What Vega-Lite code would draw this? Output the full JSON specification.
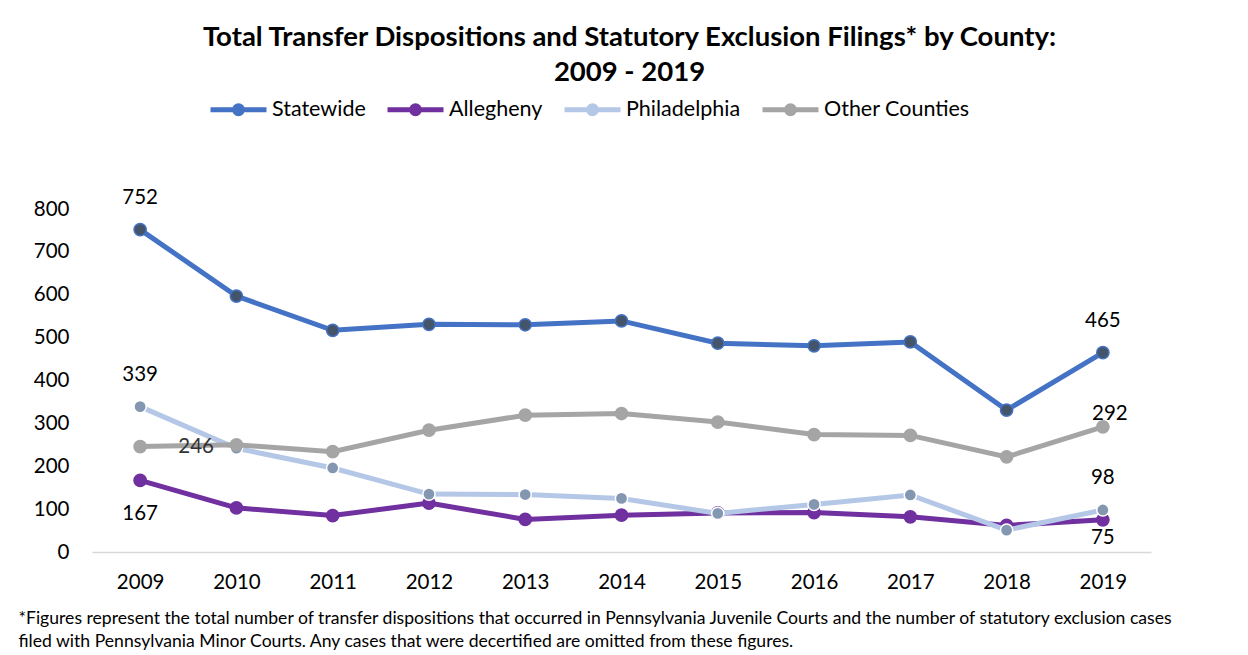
{
  "$schema": "https://vega.github.io/schema/vega-lite/v6.json",
  "autosize": {"type": "none"},
  "width": 1059,
  "height": 343,
  "padding": {"left": 92, "top": 209, "right": 97, "bottom": 103},
  "background": "white",
  "config": {
    "font": "Lato",
    "view": {"stroke": null}
  },
  "title": {
    "text": ["Total Transfer Dispositions and Statutory Exclusion Filings* by County:", "2009 - 2019"],
    "fontSize": 27.5,
    "fontWeight": "bold",
    "color": "#000000",
    "lineHeight": 35,
    "anchor": "middle",
    "dx": 8,
    "offset": -7
  },
  "data": {
    "values": [
      {"year": "2009", "series": "Statewide", "value": 752},
      {"year": "2010", "series": "Statewide", "value": 597},
      {"year": "2011", "series": "Statewide", "value": 517},
      {"year": "2012", "series": "Statewide", "value": 531},
      {"year": "2013", "series": "Statewide", "value": 530},
      {"year": "2014", "series": "Statewide", "value": 539},
      {"year": "2015", "series": "Statewide", "value": 487},
      {"year": "2016", "series": "Statewide", "value": 481},
      {"year": "2017", "series": "Statewide", "value": 490},
      {"year": "2018", "series": "Statewide", "value": 331},
      {"year": "2019", "series": "Statewide", "value": 465},
      {"year": "2009", "series": "Allegheny", "value": 167},
      {"year": "2010", "series": "Allegheny", "value": 103},
      {"year": "2011", "series": "Allegheny", "value": 85},
      {"year": "2012", "series": "Allegheny", "value": 114},
      {"year": "2013", "series": "Allegheny", "value": 76},
      {"year": "2014", "series": "Allegheny", "value": 86},
      {"year": "2015", "series": "Allegheny", "value": 91},
      {"year": "2016", "series": "Allegheny", "value": 92},
      {"year": "2017", "series": "Allegheny", "value": 82},
      {"year": "2018", "series": "Allegheny", "value": 62},
      {"year": "2019", "series": "Allegheny", "value": 75},
      {"year": "2009", "series": "Philadelphia", "value": 339},
      {"year": "2010", "series": "Philadelphia", "value": 242},
      {"year": "2011", "series": "Philadelphia", "value": 196},
      {"year": "2012", "series": "Philadelphia", "value": 135},
      {"year": "2013", "series": "Philadelphia", "value": 134},
      {"year": "2014", "series": "Philadelphia", "value": 125},
      {"year": "2015", "series": "Philadelphia", "value": 90},
      {"year": "2016", "series": "Philadelphia", "value": 111},
      {"year": "2017", "series": "Philadelphia", "value": 133},
      {"year": "2018", "series": "Philadelphia", "value": 51},
      {"year": "2019", "series": "Philadelphia", "value": 98},
      {"year": "2009", "series": "Other Counties", "value": 246},
      {"year": "2010", "series": "Other Counties", "value": 250},
      {"year": "2011", "series": "Other Counties", "value": 234},
      {"year": "2012", "series": "Other Counties", "value": 284},
      {"year": "2013", "series": "Other Counties", "value": 319},
      {"year": "2014", "series": "Other Counties", "value": 323},
      {"year": "2015", "series": "Other Counties", "value": 303},
      {"year": "2016", "series": "Other Counties", "value": 274},
      {"year": "2017", "series": "Other Counties", "value": 272},
      {"year": "2018", "series": "Other Counties", "value": 222},
      {"year": "2019", "series": "Other Counties", "value": 292}
    ]
  },
  "encoding": {
    "x": {
      "field": "year",
      "type": "ordinal",
      "scale": {"type": "point", "padding": 0.5},
      "axis": {
        "labelAngle": 0,
        "labelFontSize": 20.5,
        "labelColor": "#000000",
        "labelPadding": 20,
        "ticks": false,
        "grid": false,
        "domainColor": "#D9D9D9",
        "domainWidth": 1.5,
        "title": ["*Figures represent the total number of transfer dispositions that occurred in Pennsylvania Juvenile Courts and the number of statutory exclusion cases", "filed with Pennsylvania Minor Courts. Any cases that were decertified are omitted from these figures."],
        "titleFontSize": 17.6,
        "titleFontWeight": "normal",
        "titleColor": "#000000",
        "titleLineHeight": 23,
        "titleAlign": "left",
        "titleAnchor": "start",
        "titleBaseline": "top",
        "titleX": -74,
        "titleY": 57
      }
    },
    "y": {
      "field": "value",
      "type": "quantitative",
      "scale": {"domain": [0, 800], "nice": false},
      "axis": {
        "values": [0, 100, 200, 300, 400, 500, 600, 700, 800],
        "labelFontSize": 20.5,
        "labelColor": "#000000",
        "labelPadding": 23,
        "ticks": false,
        "domain": false,
        "grid": false,
        "title": null
      }
    }
  },
  "layer": [
    {
      "transform": [{"filter": "datum.series === 'Statewide'"}],
      "mark": {"type": "line", "strokeWidth": 5},
      "encoding": {
        "color": {
          "field": "series",
          "type": "nominal",
          "scale": {
            "domain": ["Statewide", "Allegheny", "Philadelphia", "Other Counties"],
            "range": ["#4472C4", "#7030A0", "#B4C7E7", "#A5A5A5"]
          },
          "legend": {
            "title": null,
            "orient": "none",
            "direction": "horizontal",
            "legendX": 116,
            "legendY": -130,
            "labelFontSize": 21.5,
            "labelColor": "#000000",
            "labelOffset": 3,
            "columnPadding": 11,
            "symbolSize": 3136,
            "symbolStrokeWidth": 5,
            "symbolType": "M-1,0H1M0.143,0A0.143,0.143 0 1,1 -0.143,0A0.143,0.143 0 1,1 0.143,0M0.05,0A0.05,0.05 0 1,1 -0.05,0A0.05,0.05 0 1,1 0.05,0"
          }
        }
      }
    },
    {
      "transform": [{"filter": "datum.series === 'Statewide'"}],
      "mark": {"type": "point", "filled": true, "size": 150, "fill": "#44546A", "stroke": "#4472C4", "strokeWidth": 1.5, "opacity": 1}
    },
    {
      "transform": [{"filter": "datum.series === 'Allegheny'"}],
      "mark": {"type": "line", "strokeWidth": 5},
      "encoding": {"color": {"field": "series", "type": "nominal"}}
    },
    {
      "transform": [{"filter": "datum.series === 'Allegheny'"}],
      "mark": {"type": "point", "filled": true, "size": 150, "fill": "#7030A0", "stroke": "#7030A0", "strokeWidth": 1.5, "opacity": 1}
    },
    {
      "transform": [{"filter": "datum.series === 'Philadelphia'"}],
      "mark": {"type": "line", "strokeWidth": 5},
      "encoding": {"color": {"field": "series", "type": "nominal"}}
    },
    {
      "transform": [{"filter": "datum.series === 'Philadelphia'"}],
      "mark": {"type": "point", "filled": true, "size": 150, "fill": "#8497B0", "stroke": "#FFFFFF", "strokeWidth": 1.5, "opacity": 1}
    },
    {
      "transform": [{"filter": "datum.series === 'Other Counties'"}],
      "mark": {"type": "line", "strokeWidth": 5},
      "encoding": {"color": {"field": "series", "type": "nominal"}}
    },
    {
      "transform": [{"filter": "datum.series === 'Other Counties'"}],
      "mark": {"type": "point", "filled": true, "size": 150, "fill": "#A5A5A5", "stroke": "#A5A5A5", "strokeWidth": 1.5, "opacity": 1}
    },
    {
      "transform": [{"filter": "(datum.series === 'Statewide' || datum.series === 'Philadelphia') && (datum.year === '2009' || datum.year === '2019')"}],
      "mark": {"type": "text", "fontSize": 20.5, "color": "#000000", "dy": -32, "baseline": "middle"},
      "encoding": {"text": {"field": "value", "type": "quantitative"}}
    },
    {
      "transform": [{"filter": "datum.series === 'Allegheny' && datum.year === '2009'"}],
      "mark": {"type": "text", "fontSize": 20.5, "color": "#000000", "dy": 34, "baseline": "middle"},
      "encoding": {"text": {"field": "value", "type": "quantitative"}}
    },
    {
      "transform": [{"filter": "datum.series === 'Allegheny' && datum.year === '2019'"}],
      "mark": {"type": "text", "fontSize": 20.5, "color": "#000000", "dy": 18, "baseline": "middle"},
      "encoding": {"text": {"field": "value", "type": "quantitative"}}
    },
    {
      "transform": [{"filter": "datum.series === 'Other Counties' && datum.year === '2009'"}],
      "mark": {"type": "text", "fontSize": 20.5, "color": "#333333", "dx": 56, "dy": 0, "baseline": "middle"},
      "encoding": {"text": {"field": "value", "type": "quantitative"}}
    },
    {
      "transform": [{"filter": "datum.series === 'Other Counties' && datum.year === '2019'"}],
      "mark": {"type": "text", "fontSize": 20.5, "color": "#000000", "dx": 7, "dy": -13, "baseline": "middle"},
      "encoding": {"text": {"field": "value", "type": "quantitative"}}
    }
  ]
}
